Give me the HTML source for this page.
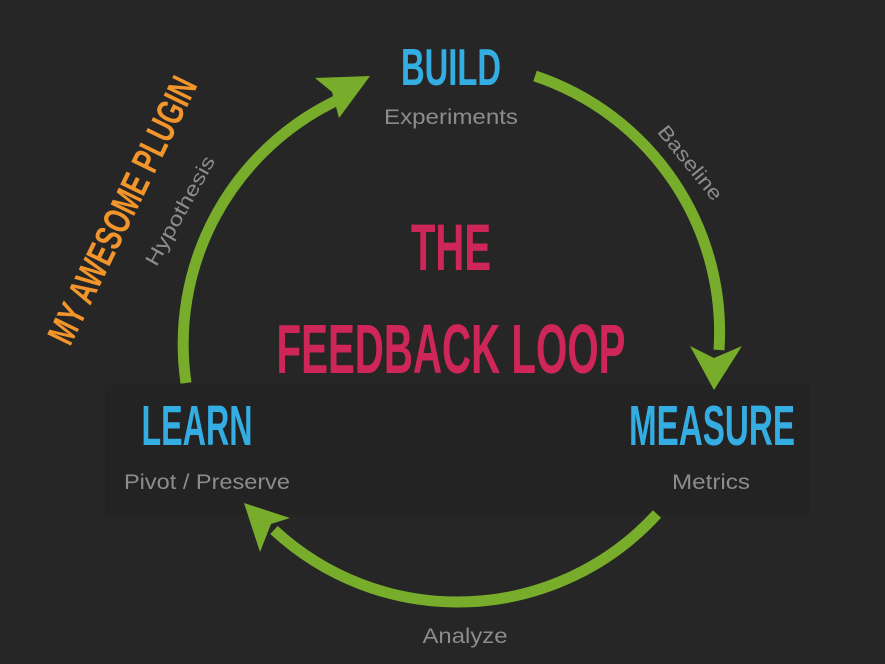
<!DOCTYPE html>
<html><head><meta charset="utf-8"><style>
html,body{margin:0;padding:0;background:#262626;}
svg{display:block}
.c{font-family:"Liberation Sans",sans-serif;font-weight:bold;}
.g{font-family:"Liberation Sans",sans-serif;fill:#8c8c8c;}
</style></head><body>
<svg width="885" height="664" viewBox="0 0 885 664">
<rect width="885" height="664" fill="#262626"/>
<rect x="105" y="385" width="705" height="130" fill="#232323"/>
<g fill="none" stroke="#78ad2c" stroke-width="11">
<path d="M186 383 A270 270 0 0 1 342 98"/>
<path d="M535 76 A270 270 0 0 1 719 350"/>
<path d="M657 514 A270 270 0 0 1 274 530"/>
</g>
<g fill="#78ad2c">
<polygon points="370,76 315,78 332,92 339,118"/>
<polygon points="714,390 690,346 714,358 742,346"/>
<polygon points="244,503 290,518 271,524 260,552"/>
</g>
<text class="c" x="451" y="85" font-size="52" fill="#34aee2" text-anchor="middle" textLength="100" lengthAdjust="spacingAndGlyphs">BUILD</text>
<text class="g" x="451" y="124" font-size="21" text-anchor="middle" textLength="134" lengthAdjust="spacingAndGlyphs">Experiments</text>
<text class="c" x="451" y="270" font-size="66" fill="#cf2659" text-anchor="middle" textLength="80" lengthAdjust="spacingAndGlyphs">THE</text>
<text class="c" x="451" y="373" font-size="70" fill="#cf2659" text-anchor="middle" textLength="349" lengthAdjust="spacingAndGlyphs">FEEDBACK LOOP</text>
<text class="c" x="197" y="445" font-size="57" fill="#34aee2" text-anchor="middle" textLength="111" lengthAdjust="spacingAndGlyphs">LEARN</text>
<text class="c" x="712" y="445" font-size="57" fill="#34aee2" text-anchor="middle" textLength="166" lengthAdjust="spacingAndGlyphs">MEASURE</text>
<text class="g" x="207" y="489" font-size="21" text-anchor="middle" textLength="166" lengthAdjust="spacingAndGlyphs">Pivot / Preserve</text>
<text class="g" x="711" y="489" font-size="21" text-anchor="middle" textLength="78" lengthAdjust="spacingAndGlyphs">Metrics</text>
<text class="g" x="465" y="643" font-size="21" text-anchor="middle" textLength="85" lengthAdjust="spacingAndGlyphs">Analyze</text>
<text class="g" x="0" y="0" font-size="20" text-anchor="middle" textLength="90" lengthAdjust="spacingAndGlyphs" transform="translate(685,167) rotate(51)">Baseline</text>
<text class="g" x="0" y="0" font-size="20" text-anchor="middle" textLength="122" lengthAdjust="spacingAndGlyphs" transform="translate(186,214) rotate(-61)">Hypothesis</text>
<text class="c" x="0" y="0" font-size="38" fill="#f2952b" text-anchor="middle" textLength="292" lengthAdjust="spacingAndGlyphs" transform="translate(134,216) rotate(-64)">MY AWESOME PLUGIN</text>
</svg>
</body></html>
